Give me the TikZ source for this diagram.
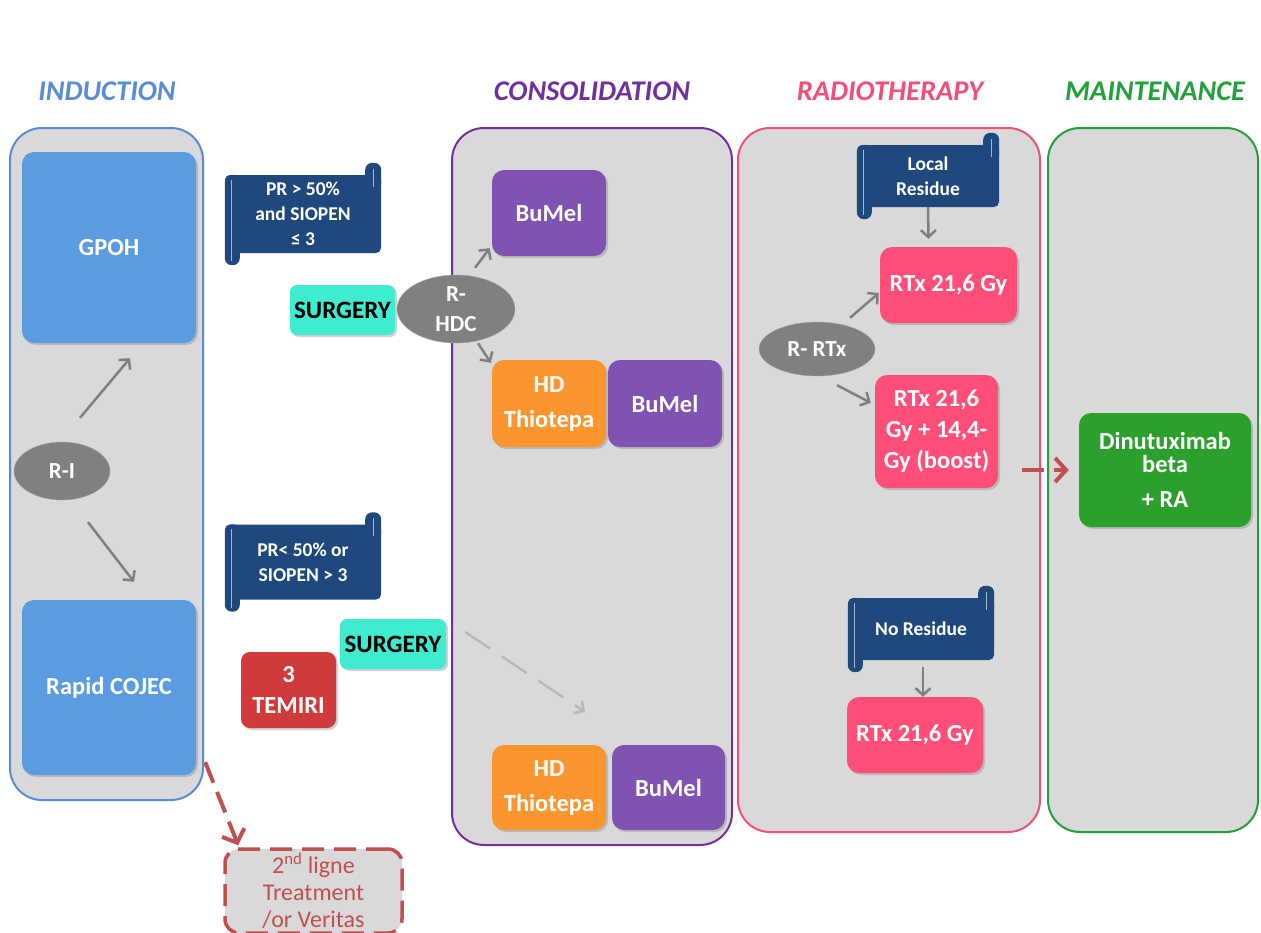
\documentclass[tikz,border=0pt]{standalone}
\usepackage{fontspec}
\setmainfont{Carlito}
\usetikzlibrary{shapes.geometric,shadows,arrows.meta}
\definecolor{panelgray}{RGB}{217,217,217}
\definecolor{indblue}{RGB}{88,140,212}
\definecolor{boxblue}{RGB}{91,155,224}
\definecolor{conspurple}{RGB}{112,48,160}
\definecolor{bumelpurple}{RGB}{128,82,178}
\definecolor{hdorange}{RGB}{250,150,45}
\definecolor{radpink}{RGB}{240,80,120}
\definecolor{rtxpink}{RGB}{255,78,120}
\definecolor{maingreen}{RGB}{34,160,60}
\definecolor{dinugreen}{RGB}{44,160,44}
\definecolor{scrollblue}{RGB}{31,73,125}
\definecolor{surgcyan}{RGB}{64,236,208}
\definecolor{temired}{RGB}{208,58,58}
\definecolor{ellgray}{RGB}{128,128,128}
\definecolor{arrgray}{RGB}{128,128,128}
\definecolor{dashred}{RGB}{192,80,77}
\tikzstyle{panel}=[draw,line width=2pt,fill=panelgray,rounded corners=32pt,inner sep=0pt]
\tikzstyle{phase}=[font=\bfseries\itshape\fontsize{28.5}{30}\selectfont]
\tikzstyle{box}=[rounded corners=12pt,text=white,align=center,inner sep=0pt,font=\bfseries\fontsize{24.5}{31}\selectfont,drop shadow={opacity=0.35,shadow xshift=2pt,shadow yshift=-2pt}]
\tikzstyle{surgbox}=[box,fill=surgcyan,text=black,rounded corners=7pt,font=\bfseries\fontsize{25}{27}\selectfont]
\tikzstyle{rnode}=[ellipse,fill=ellgray,draw=gray!70,text=white,align=center,inner sep=0pt,font=\bfseries\fontsize{23}{30}\selectfont]
\tikzstyle{scrollbox}=[fill=scrollblue,text=white,align=center,inner sep=0pt,rounded corners=5pt,font=\bfseries\fontsize{19.5}{25}\selectfont]
\tikzstyle{arr}=[-{Straight Barb[length=7pt,width=15pt]},line width=2.5pt,draw=arrgray]
\tikzstyle{redarr}=[-{Straight Barb[length=11pt,width=24pt]},line width=4pt,draw=dashred,dash pattern=on 22pt off 10pt]
\newcommand{\rolls}[1]{%
  \fill[scrollblue,rounded corners=7pt] (#1.north west) rectangle ([shift={(15,12)}]#1.south west);
  \draw[white!60!scrollblue,line width=0.7pt] ([shift={(7,5)}]#1.north west) -- ([shift={(7,8)}]#1.south west);
  \fill[scrollblue,rounded corners=7pt] ([shift={(-16,-12)}]#1.north east) rectangle ([shift={(0,16)}]#1.north east);
  \draw[white!60!scrollblue,line width=0.7pt] ([shift={(-8,-6)}]#1.north east) -- ([shift={(-8,12)}]#1.north east);
}

\begin{document}
\begin{tikzpicture}[x=1pt,y=-1pt]
\useasboundingbox (0,0) rectangle (1261,932);
\clip (0,0) rectangle (1261,932);
\fill[white] (0,0) rectangle (1261,932);

% phases
\node[phase,text=indblue] at (107,91) (tind) {INDUCTION};
\node[phase,text=conspurple] at (592,91) (tcons) {CONSOLIDATION};
\node[phase,text=radpink] at (890,91) (trad) {RADIOTHERAPY};
\node[phase,text=maingreen] at (1155,91) (tmain) {MAINTENANCE};

\node[panel,draw=indblue,minimum width=193pt,minimum height=672pt] at (106.5,464) (ind) {};
\node[panel,draw=conspurple,minimum width=280pt,minimum height=717pt] at (592,486.5) (cons) {};
\node[panel,draw=radpink,minimum width=302pt,minimum height=704pt] at (889,480) (rad) {};
\node[panel,draw=maingreen,minimum width=210pt,minimum height=704pt] at (1153,480) (main) {};

% induction
\node[box,fill=boxblue,minimum width=174pt,minimum height=191pt] at (109,247.5) (gpoh) {GPOH};
\node[box,fill=boxblue,minimum width=174pt,minimum height=175pt] at (109,687.5) (cojec) {Rapid COJEC};
\node[rnode,minimum width=96pt,minimum height=58pt] at (62,471) (ri) {R-I};
\draw[arr] ([shift={(18,-24)}]ri.north) -- ([shift={(21,15)}]gpoh.south);
\draw[arr] ([shift={(26,22)}]ri.south) -- ([shift={(25,-18)}]cojec.north);

% good response
\node[scrollbox,minimum width=156pt,minimum height=78pt] at (303,214) (good) {PR > 50\%\\and SIOPEN\\≤ 3};
\rolls{good}
\node[surgbox,minimum width=105pt,minimum height=50pt] at (342.5,310) (surg1) {SURGERY};
\node[rnode,minimum width=118pt,minimum height=68pt] at (456,309) (rhdc) {R-\\HDC};

% poor response
\node[scrollbox,minimum width=156pt,minimum height=75pt] at (303,562) (poor) {PR< 50\% or\\SIOPEN > 3};
\rolls{poor}
\node[surgbox,minimum width=106pt,minimum height=50pt] at (393,644) (surg2) {SURGERY};
\node[box,fill=temired,rounded corners=9pt,minimum width=95pt,minimum height=76pt] at (288.5,690) (temiri) {3\\TEMIRI};

% consolidation
\node[box,fill=bumelpurple,minimum width=114pt,minimum height=86pt] at (549,213) (bumel1) {BuMel};
\node[box,fill=hdorange,minimum width=114pt,minimum height=87pt] at (549,403.5) (hdt1) {HD\\[4pt]Thiotepa};
\node[box,fill=bumelpurple,minimum width=114pt,minimum height=87pt] at (665,403.5) (bumel2) {BuMel};
\node[box,fill=hdorange,minimum width=114pt,minimum height=85pt] at (549,787.5) (hdt2) {HD\\[4pt]Thiotepa};
\node[box,fill=bumelpurple,minimum width=113pt,minimum height=85pt] at (668.5,787.5) (bumel3) {BuMel};
\draw[arr] ([shift={(19,-7)}]rhdc.north) -- ([shift={(-2,-8)}]bumel1.south west);
\draw[arr] ([shift={(22,0)}]rhdc.south) -- ([shift={(-1,3)}]hdt1.north west);
\draw[arr,draw=gray!55,dash pattern=on 30pt off 14pt] ([shift={(19,-12)}]surg2.east) -- ([shift={(36,-33)}]hdt2.north);

% radiotherapy
\node[scrollbox,minimum width=142pt,minimum height=62pt] at (928,176) (locres) {Local\\Residue};
\rolls{locres}
\node[box,fill=rtxpink,minimum width=137pt,minimum height=76pt] at (948.5,285) (rtx1) {RTx 21,6 Gy};
\node[rnode,minimum width=116pt,minimum height=54pt] at (817,349) (rrtx) {R- RTx};
\node[box,fill=rtxpink,minimum width=123pt,minimum height=113pt] at (936.5,431.5) (rtx2) {RTx 21,6\\Gy + 14,4-\\Gy (boost)};
\node[scrollbox,minimum width=146pt,minimum height=62pt] at (921,629) (nores) {No Residue};
\rolls{nores}
\node[box,fill=rtxpink,minimum width=136pt,minimum height=76pt] at (915,735) (rtx3) {RTx 21,6 Gy};
\draw[arr] (locres.south) -- ([shift={(-20,-8)}]rtx1.north);
\draw[arr] ([shift={(33,-4)}]rrtx.north) -- ([shift={(-1,8)}]rtx1.west);
\draw[arr] ([shift={(20,9)}]rrtx.south) -- ([shift={(-4,28)}]rtx2.north west);
\draw[arr] ([shift={(2,7)}]nores.south) -- ([shift={(8,0)}]rtx3.north);

% maintenance
\node[box,fill=dinugreen,minimum width=172pt,minimum height=114pt] at (1165,470) (dinu) {Dinutuximab\\[-8pt]beta\\[4pt]+ RA};
\draw[redarr] ([shift={(-57,0)}]dinu.west) -- ([shift={(-10,0)}]dinu.west);

% second line
\node[draw=dashred,fill=panelgray,line width=3.5pt,dash pattern=on 22pt off 10pt,rounded corners=14pt,minimum width=177pt,minimum height=84pt,inner sep=0pt,align=center,text=dashred,font=\fontsize{24}{27}\selectfont] at (313.5,891) (second) {2\textsuperscript{nd} ligne\\Treatment\\/or Veritas};
\draw[redarr] ([shift={(9,-13)}]cojec.south east) -- ([shift={(15,-2)}]second.north west);
\end{tikzpicture}
\end{document}
